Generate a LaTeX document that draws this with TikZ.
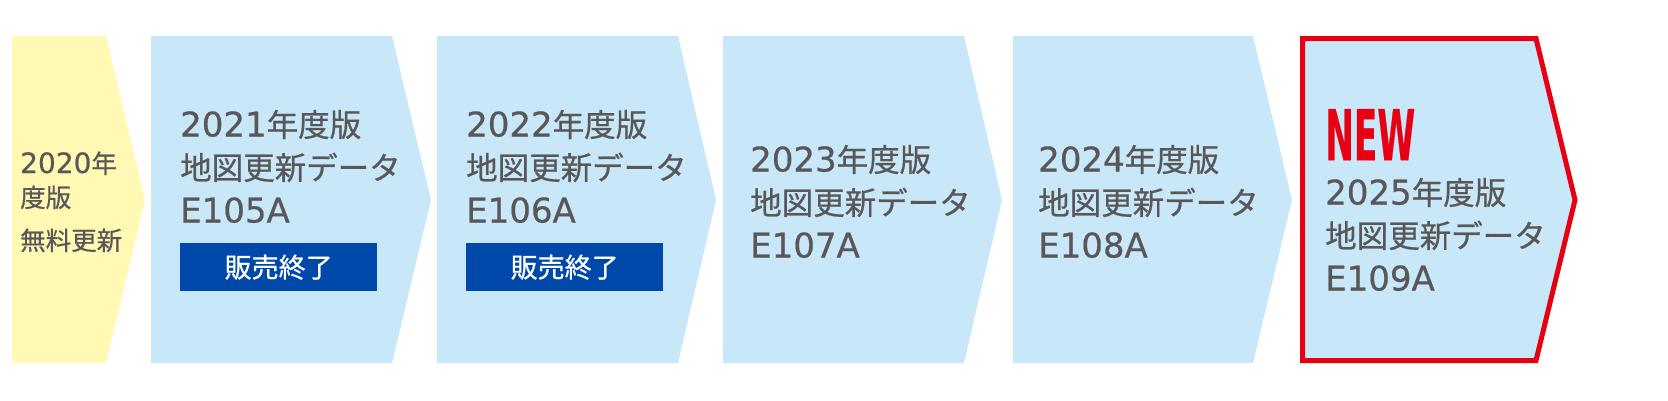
\documentclass[tikz,border=0pt]{standalone}
\usepackage{fontspec}
\setmainfont[FakeBold=0.6]{DejaVu Sans}
\newfontfamily\cjkfont[FakeBold=0.6]{Noto Sans CJK JP}
\newcommand{\jp}[1]{{\cjkfont\fontsize{31.5}{43}\selectfont #1}}
\newcommand{\jpsmall}[1]{{\cjkfont\fontsize{25.5}{34}\selectfont #1}}
\definecolor{textgray}{HTML}{595757}
\definecolor{updateblue}{HTML}{C8E7F9}
\definecolor{freeyellow}{HTML}{FFF9B4}
\definecolor{soldblue}{HTML}{0049AB}
\definecolor{newred}{HTML}{E60012}

\begin{document}
\begin{tikzpicture}[x=1pt,y=-1pt]
       \tikzstyle{every node}=[inner sep=0pt, text=textgray]
       \tikzstyle{yeartext}=[anchor=base west, align=left, font=\fontsize{34}{43}\selectfont]
       \tikzstyle{soldout}=[anchor=north west, fill=soldblue, text=white,
           minimum width=197pt, minimum height=48pt, font=\cjkfont\fontsize{27}{30}\selectfont]
   \useasboundingbox (0,0) rectangle (1668,400);

% 2020: free update (anchored at the baseline of its last line)
   \fill[freeyellow] (12,36) -- (106,36) -- (145,200) -- (106,363) -- (12,363) -- cycle;
   \node[yeartext, font=\fontsize{28}{34}\selectfont] (ed2020) at (20,250)
       {2020\jpsmall{年}\\\jpsmall{度版}\\[9pt]\jpsmall{無料更新}};

% 2021: E105A, sold out
   \fill[updateblue] (151,36) -- (392,36) -- (431,200) -- (392,363) -- (151,363) -- cycle;
   \node[yeartext] (ed2021) at (180,222.5) {2021\jp{年度版}\\\jp{地図更新データ}\\E105A};
   \node[soldout] (end2021) at (180,243) {販売終了};

% 2022: E106A, sold out
   \fill[updateblue] (437,36) -- (678,36) -- (716,200) -- (678,363) -- (437,363) -- cycle;
   \node[yeartext] (ed2022) at (466,222.5) {2022\jp{年度版}\\\jp{地図更新データ}\\E106A};
   \node[soldout] (end2022) at (466,243) {販売終了};

% 2023: E107A
   \fill[updateblue] (723,36) -- (964,36) -- (1002,200) -- (964,363) -- (723,363) -- cycle;
   \node[yeartext] (ed2023) at (750,257.5) {2023\jp{年度版}\\\jp{地図更新データ}\\E107A};

% 2024: E108A
   \fill[updateblue] (1013,36) -- (1253,36) -- (1292,200) -- (1253,363) -- (1013,363) -- cycle;
   \node[yeartext] (ed2024) at (1038,257.5) {2024\jp{年度版}\\\jp{地図更新データ}\\E108A};

% 2025: E109A, new
   \draw[newred, line width=5pt, fill=updateblue]
       (1302.5,38.5) -- (1536,38.5) -- (1575,200) -- (1536,360.5) -- (1302.5,360.5) -- cycle;
   \node[anchor=north west, text=newred] (new2025) at (1325,109)
       {\resizebox{90pt}{51pt}{\bfseries NEW}};
   \node[yeartext] (ed2025) at (1325,290.5) {2025\jp{年度版}\\\jp{地図更新データ}\\E109A};

\end{tikzpicture}
\end{document}
